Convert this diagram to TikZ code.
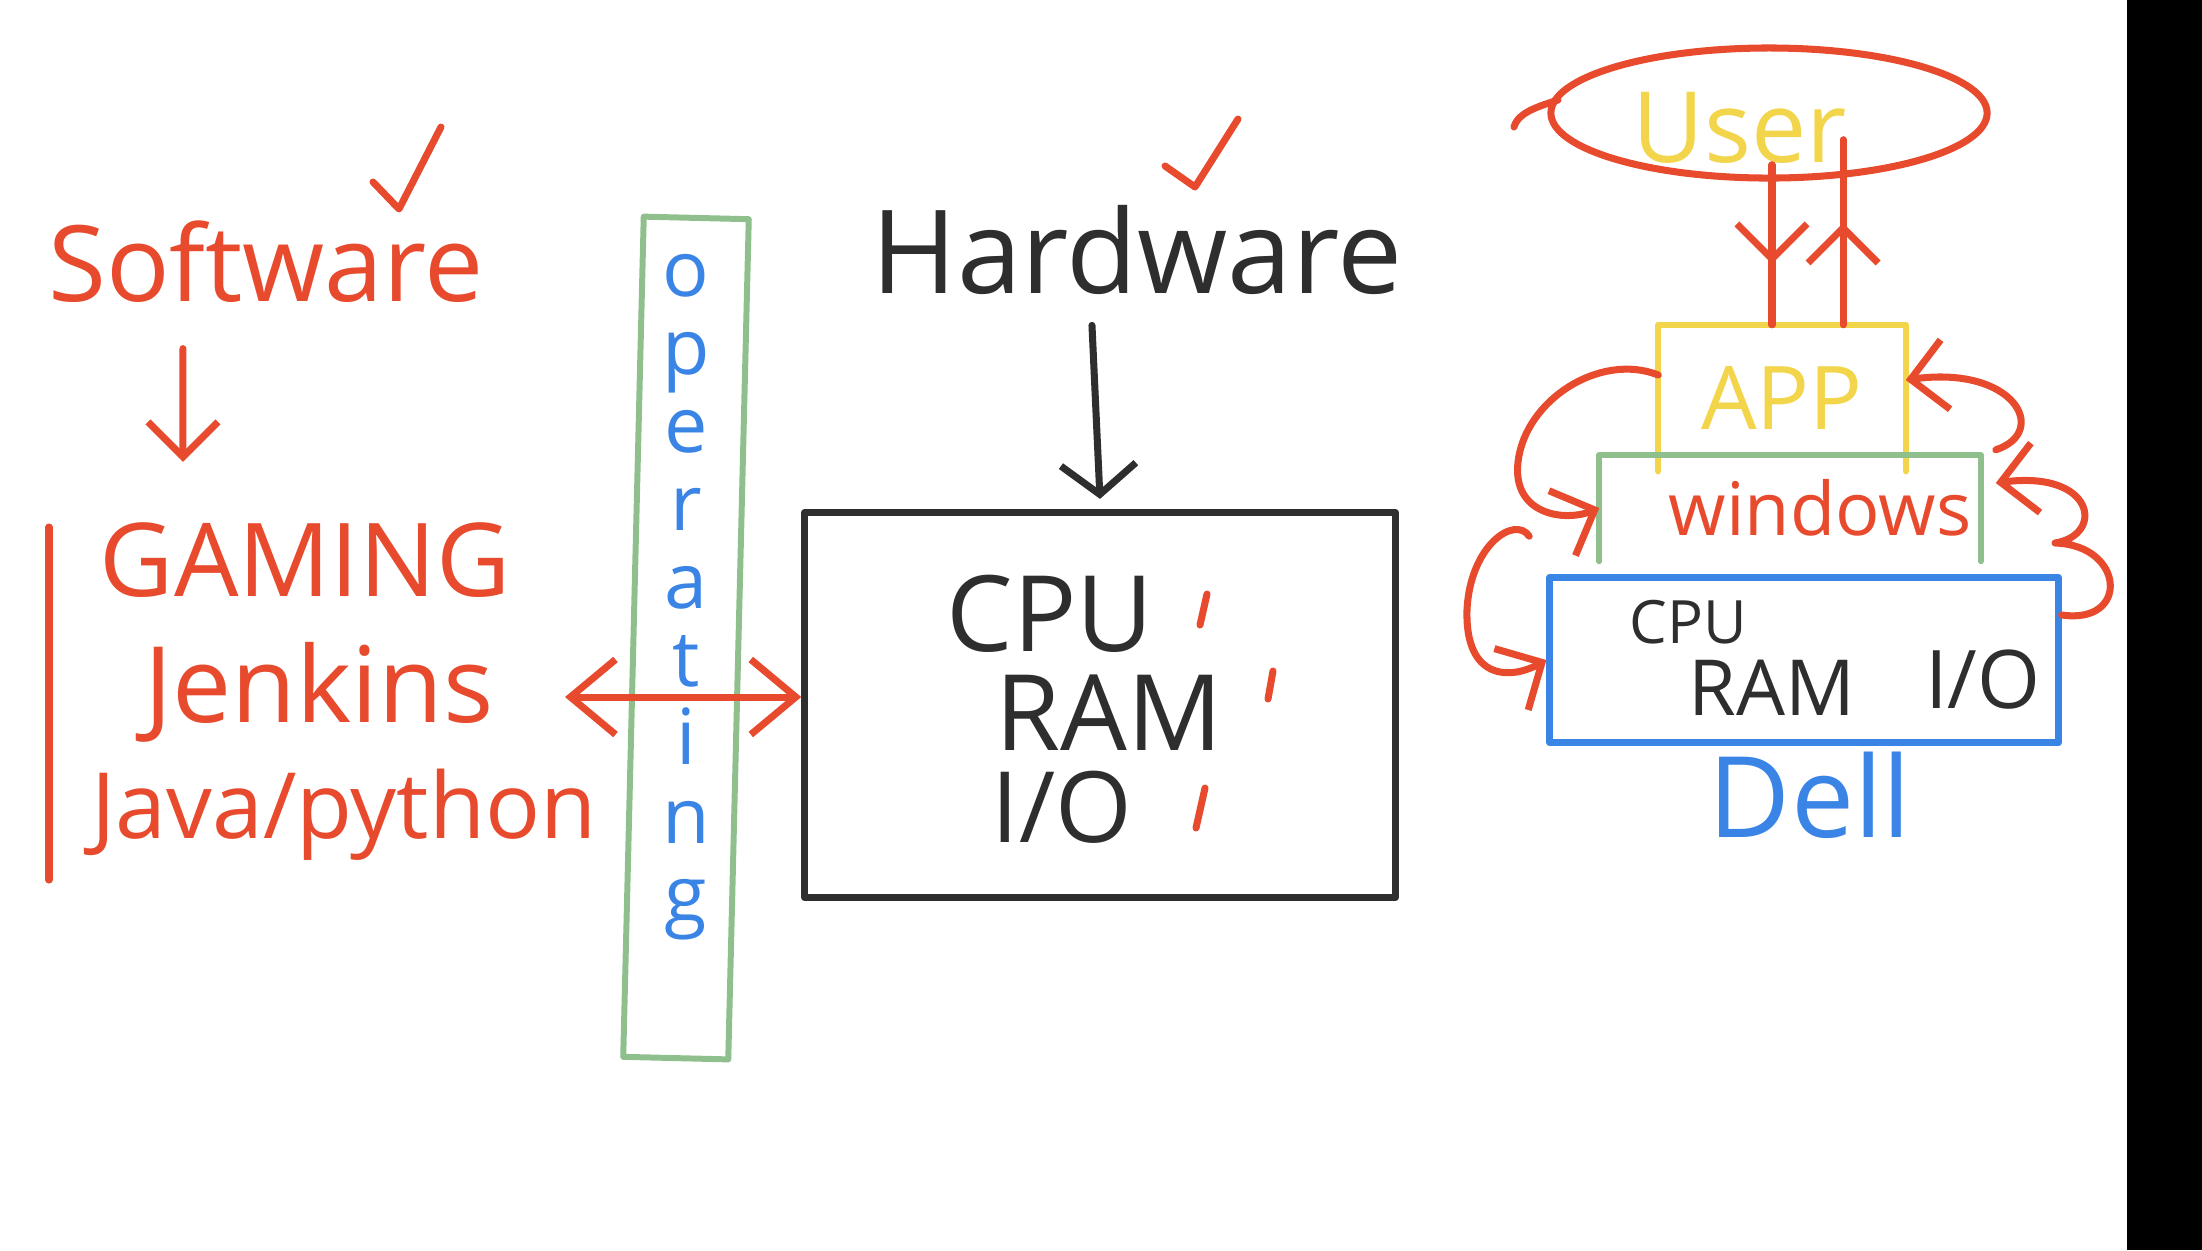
\documentclass[tikz,border=0pt]{standalone}
\usepackage{fontspec}
\setmainfont{Open Sans}
\usetikzlibrary{arrows.meta,shapes.geometric,decorations.markings}
\definecolor{hred}{HTML}{E84A2E}
\definecolor{hgreen}{HTML}{8FBF8C}
\definecolor{hblue}{HTML}{3A84E6}
\definecolor{hyellow}{HTML}{F2D54A}
\definecolor{hblack}{HTML}{2E2E2E}

\begin{document}
\begin{tikzpicture}[x=0.01cm, y=-0.01cm, line cap=round, line join=round,
		hand_text/.style={inner sep=0pt, font=\fontsize{#1}{#1}\selectfont},
		red_line/.style={draw=hred, line width=2pt},
		red_arrow/.style={red_line, -{Straight Barb[length=3.5mm,width=7mm]}},
		red_dbl/.style={red_line, {Straight Barb[length=4.5mm,width=7.5mm]}-{Straight Barb[length=4.5mm,width=7.5mm]}},
		mid_arrow/.style={postaction={decorate}, decoration={markings,
			mark=at position #1 with {\arrow{Straight Barb[length=3.5mm,width=7mm]}}}},
		box_black/.style={draw=hblack, line width=2pt, minimum width=5.9cm, minimum height=3.85cm},
		os_style/.style={draw=hgreen, line width=1.7pt, minimum width=1.05cm, minimum height=8.4cm, rotate=-1.4},
		open_box/.style={inner sep=0pt, line width=1.8pt}]

		\useasboundingbox (0,0) rectangle (2202,1250);
		\fill[black] (2127,0) rectangle (2202,1250);

		% software side
		\node[hand_text=30, text=hred] (software) at (266,262) {Software};
		\node[hand_text=29, text=hred] (gaming) at (305,560) {GAMING};
		\node[hand_text=30, text=hred] (jenkins) at (319,692) {Jenkins};
		\node[hand_text=26, text=hred] (javapy) at (344,815) {Java/python};
		\draw[red_line] (373,182) -- (399,209) -- (441,127);
		\draw[red_line] (49,527) -- (49,880);
		\draw[red_arrow] ([xshift=-0.83cm,yshift=-0.45cm]software.south) -- ([xshift=-1.22cm,yshift=0.6cm]gaming.north);

		% operating system column
		\node[os_style] (os) at (686,638) {};
		\node[inner sep=0pt, align=center, text=hblue, font=\fontsize{22}{22.2}\selectfont] (os_word) at (686,597) {o\\p\\e\\r\\a\\t\\i\\n\\g};

		% hardware side
		\node[hand_text=33, text=hblack] (hardware) at (1137,250) {Hardware};
		\draw[red_line] (1165,166) -- (1195,187) -- (1238,119);
		\node[box_black] (hwbox) at (1100,705) {};
		\node[hand_text=30, text=hblack] (cpu) at (1050,614) {CPU};
		\node[hand_text=30, text=hblack] (ram) at (1109,713) {RAM};
		\node[hand_text=28, text=hblack] (io) at (1062,807) {I/O};
		\draw[red_line] (1200,625) -- (1207,594);
		\draw[red_line] (1268,699) -- (1273,671);
		\draw[red_line] (1196,828) -- (1205,788);
		\draw[draw=hblack, line width=2pt, -{Straight Barb[length=3mm,width=7.5mm]}] ([xshift=-0.45cm,yshift=-0.3cm]hardware.south) -- ([yshift=0.1cm]hwbox.north);

		\coordinate (os_left) at (565,697);
		\draw[red_dbl] (os_left) -- (os_left -| hwbox.west);

		% layers
		\node[ellipse, draw=hred, line width=2pt, minimum width=4.36cm, minimum height=1.3cm] (user) at (1769,113) {};
		\node[hand_text=28, text=hyellow] (user_text) at (1740,128) {User};
		\draw[red_line] (1514,127) .. controls (1518,112) and (1540,106) .. (1558,100);

		\node[open_box, minimum width=2.41cm, minimum height=1.4cm, font=\fontsize{25}{25}\selectfont, text=hyellow] (app) at (1782,398) {APP};
		\draw[hyellow, line width=1.8pt] (app.south west) -- (app.north west) -- (app.north east) -- (app.south east);

		\node[open_box, minimum width=3.75cm, minimum height=1.0cm, font=\fontsize{21}{21}\selectfont, text=hred] (win) at (1790,508) {\hspace{0.6cm}windows};
		\draw[hgreen, line width=1.7pt] (win.south west) -- (win.north west) -- (win.north east) -- (win.south east);

		\node[draw=hblue, line width=2pt, minimum width=5.08cm, minimum height=1.65cm] (dell) at (1804,660) {};
		\node[hand_text=17, text=hblack] (cpu_small) at (1688,622) {CPU};
		\node[hand_text=22, text=hblack] (ram_small) at (1772,688) {RAM};
		\node[hand_text=23, text=hblack] (io_small) at (1983,680) {I/O};
		\node[hand_text=32, text=hblue] (dell_label) at (1810,795) {Dell};

		\draw[red_line, mid_arrow=0.62] ([xshift=-1mm,yshift=1.6cm]app.north) -- ([xshift=-1mm]app.north);
		\draw[red_line, mid_arrow=0.55] ([xshift=6.1mm]app.north) -- ([xshift=6.1mm,yshift=1.85cm]app.north);

		\draw[red_arrow] ([yshift=0.23cm]app.west) .. controls (1600,352) and (1525,400) .. (1518,462) .. controls (1512,515) and (1565,522) .. (win.west);
		\draw[red_arrow] ([xshift=-0.7cm,yshift=0.25cm]win.south west) .. controls (1515,515) and (1470,545) .. (1467,610) .. controls (1465,680) and (1510,680) .. (dell.west);
		\draw[red_arrow] ([xshift=0.15cm,yshift=0.05cm]win.north east) .. controls (2050,432) and (2015,365) .. ([yshift=0.18cm]app.east);
		\draw[red_arrow] ([yshift=0.45cm]dell.east) .. controls (2130,625) and (2125,545) .. (2055,543) .. controls (2105,535) and (2095,470) .. ([xshift=0.15cm,yshift=0.25cm]win.east);

		\end{tikzpicture}
\end{document}
